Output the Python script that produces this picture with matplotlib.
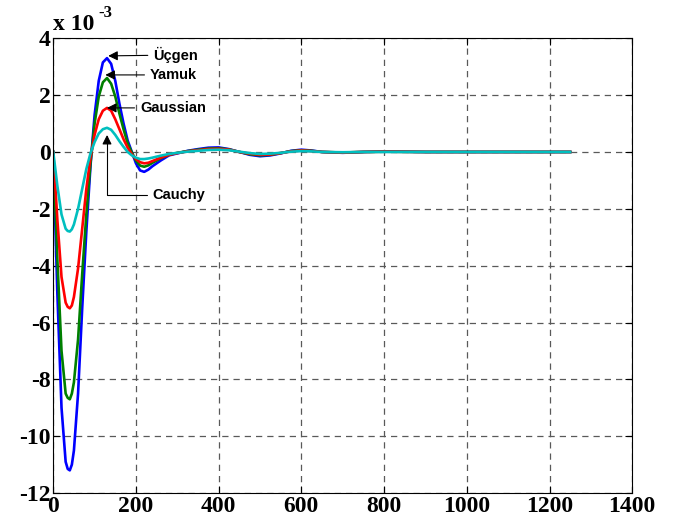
import matplotlib.pyplot as plt

plt.rcParams['axes.unicode_minus'] = False

# sample positions and curve values (units of 1e-3)
x = [0, 10, 20, 30, 35, 40, 45, 50, 60, 70, 80, 90, 100, 110, 120, 130, 140, 150, 160, 170, 180,
     190, 200, 210, 220, 230, 240, 260, 280, 300, 325, 350, 375, 400, 425, 450, 475, 500, 525,
     550, 575, 600, 625, 650, 700, 750, 800, 900, 1000, 1100, 1250]

ucgen = [0, -5.0, -9.0, -10.9, -11.15, -11.2, -11.0, -10.5, -8.5, -5.5, -2.8, -0.5, 1.3, 2.5,
         3.15, 3.3, 3.1, 2.5, 1.7, 1.0, 0.4, 0.0, -0.4, -0.65, -0.7, -0.62, -0.5, -0.3, -0.12,
         -0.05, 0.04, 0.1, 0.15, 0.16, 0.1, 0.0, -0.1, -0.15, -0.12, -0.05, 0.04, 0.08, 0.05, 0.0,
         -0.03, 0.0, 0.02, 0, 0, 0, 0]
yamuk = [0, -3.8, -7.0, -8.5, -8.65, -8.7, -8.5, -8.1, -6.6, -4.3, -2.2, -0.4, 1.0, 1.95, 2.45,
         2.6, 2.4, 1.95, 1.35, 0.8, 0.3, -0.02, -0.3, -0.48, -0.52, -0.47, -0.38, -0.22, -0.1,
         -0.03, 0.03, 0.08, 0.12, 0.13, 0.09, 0.0, -0.08, -0.12, -0.1, -0.04, 0.03, 0.06, 0.04,
         0.0, -0.02, 0.0, 0.01, 0, 0, 0, 0]
gaussian = [0, -2.4, -4.4, -5.3, -5.45, -5.5, -5.4, -5.1, -4.1, -2.7, -1.3, -0.2, 0.6, 1.15,
            1.45, 1.55, 1.45, 1.15, 0.8, 0.45, 0.15, -0.08, -0.25, -0.36, -0.4, -0.38, -0.32,
            -0.2, -0.1, -0.04, 0.02, 0.06, 0.1, 0.11, 0.08, 0.0, -0.06, -0.1, -0.09, -0.04, 0.02,
            0.05, 0.03, 0.0, -0.02, 0.0, 0.01, 0, 0, 0, 0]
cauchy = [0, -1.2, -2.2, -2.7, -2.78, -2.8, -2.72, -2.55, -2.0, -1.3, -0.6, -0.05, 0.35, 0.65,
          0.8, 0.85, 0.78, 0.6, 0.38, 0.18, 0.0, -0.12, -0.2, -0.25, -0.25, -0.23, -0.2, -0.13,
          -0.07, -0.03, 0.01, 0.04, 0.07, 0.08, 0.06, 0.01, -0.04, -0.07, -0.06, -0.03, 0.01,
          0.03, 0.02, 0.0, -0.01, 0.0, 0.0, 0, 0, 0, 0]

xticks = [0, 200, 400, 600, 800, 1000, 1200, 1400]
yticks = [-12, -10, -8, -6, -4, -2, 0, 2, 4]

fig = plt.figure(figsize=(6.74, 5.24), dpi=100)
ax = fig.add_axes([0.079, 0.059, 0.859, 0.868])

ax.plot(x, ucgen, color=(0, 0, 1), lw=1.9)
ax.plot(x, yamuk, color=(0, 0.5, 0), lw=1.9)
ax.plot(x, gaussian, color=(1, 0, 0), lw=1.9)
ax.plot(x, cauchy, color=(0, 0.75, 0.75), lw=1.9)

ax.set_xlim(0, 1400)
ax.set_ylim(-12, 4)
ax.set_xticks(xticks)
ax.set_yticks(yticks)
ax.grid(True, linestyle=(0, (5, 4)), color='0.35', linewidth=0.9)
ax.tick_params(direction='in', top=True, right=True, length=5, pad=2)
for lab in ax.get_xticklabels() + ax.get_yticklabels():
    lab.set_fontfamily('Liberation Serif')
    lab.set_fontweight('bold')
    lab.set_fontsize(17)

# exponent label, as in the MATLAB figure
fig.text(0.079, 0.943, 'x 10', fontfamily='Liberation Serif', fontweight='bold',
         fontsize=17, ha='left', va='baseline')
fig.text(0.146, 0.968, '-3', fontfamily='Liberation Serif', fontweight='bold',
         fontsize=12, ha='left', va='baseline')

afont = dict(fontfamily='Liberation Sans', fontweight='bold', fontsize=10.5, va='center', ha='left')
aprops = dict(arrowstyle='-|>', color='black', lw=0.8, mutation_scale=14, shrinkB=0)
ax.annotate('Üçgen', xy=(133, 3.38), xytext=(242, 3.41), arrowprops=aprops, **afont)
ax.annotate('Yamuk', xy=(126, 2.71), xytext=(234, 2.71), arrowprops=aprops, **afont)
ax.annotate('Gaussian', xy=(130, 1.55), xytext=(210, 1.55), arrowprops=aprops, **afont)
ax.annotate('Cauchy', xy=(130, 0.6), xytext=(239, -1.51),
            arrowprops=dict(aprops, connectionstyle='angle,angleA=0,angleB=90,rad=0'), **afont)

plt.savefig('out.png', dpi=100)
